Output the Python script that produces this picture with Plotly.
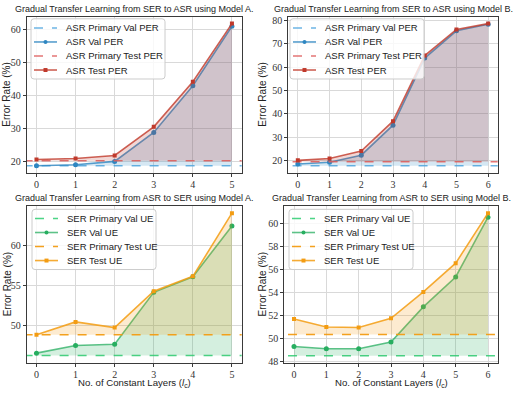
import plotly.graph_objects as go

# layers kept constant
layers_a = [0, 1, 2, 3, 4, 5]
layers_b = [0, 1, 2, 3, 4, 5, 6]

# SER -> ASR (PER)
asr_val_a = [18.7, 19.0, 20.0, 28.8, 43.0, 61.1]
asr_test_a = [20.6, 20.9, 21.8, 30.5, 44.2, 61.9]
asr_primary_val_a = 18.7
asr_primary_test_a = 20.2

asr_val_b = [18.4, 19.2, 22.2, 35.1, 63.9, 75.6, 78.4]
asr_test_b = [20.0, 20.8, 24.0, 36.8, 65.0, 76.2, 78.7]
asr_primary_val_b = 17.7
asr_primary_test_b = 19.4

# ASR -> SER (UE)
ser_val_a = [46.6, 47.55, 47.7, 54.2, 56.15, 62.5]
ser_test_a = [48.9, 50.5, 49.8, 54.35, 56.2, 64.1]
ser_primary_val_a = 46.3
ser_primary_test_a = 48.9

ser_val_b = [49.3, 49.1, 49.1, 49.7, 52.75, 55.35, 60.55]
ser_test_b = [51.7, 51.0, 50.95, 51.75, 54.05, 56.55, 60.9]
ser_primary_val_b = 48.5
ser_primary_test_b = 50.35

asr_names = ["ASR Primary Val PER", "ASR Val PER", "ASR Primary Test PER", "ASR Test PER"]
ser_names = ["SER Primary Val UE", "SER Val UE", "SER Primary Test UE", "SER Test UE"]

W, H = 515, 393
SANS = "Liberation Sans"
SERIF = "Liberation Serif"

# (marker, line, dashed, fill)
BLUE = ("#2e86c1", "rgba(46,134,193,0.8)", "rgba(93,173,226,0.9)", "rgba(46,134,193,0.2)")
RED = ("#c0392b", "rgba(192,57,43,0.8)", "rgba(224,102,102,0.9)", "rgba(192,57,43,0.2)")
GREEN = ("#27ae60", "rgba(39,174,96,0.75)", "rgba(46,204,113,0.85)", "rgba(39,174,96,0.2)")
ORANGE = ("#f39c12", "rgba(243,156,18,0.85)", "rgba(243,156,18,0.95)", "rgba(243,156,18,0.2)")


def px_x(v):
    return v / W


def px_y(v):
    return 1 - v / H


panels = [
    dict(title="Gradual Transfer Learning from SER to ASR using Model A.",
         x=layers_a, val=asr_val_a, test=asr_test_a,
         pval=asr_primary_val_a, ptest=asr_primary_test_a, names=asr_names,
         colors=(BLUE, RED), box=(26.7, 241.7, 15.7, 174), yr=[16.54, 64.06], dtick=10,
         ytitle_x=7, leg=(31, 18, 134)),
    dict(title="Gradual Transfer Learning from SER to ASR using Model B.",
         x=layers_b, val=asr_val_b, test=asr_test_b,
         pval=asr_primary_val_b, ptest=asr_primary_test_b, names=asr_names,
         colors=(BLUE, RED), box=(288.3, 497.7, 15.7, 174), yr=[14.65, 81.75], dtick=10,
         ytitle_x=263, leg=(290, 18, 134)),
    dict(title="Gradual Transfer Learning from ASR to SER using Model A.",
         x=layers_a, val=ser_val_a, test=ser_test_a,
         pval=ser_primary_val_a, ptest=ser_primary_test_a, names=ser_names,
         colors=(GREEN, ORANGE), box=(26.7, 241.7, 207.7, 366.3), yr=[45.41, 64.99], dtick=5,
         ytitle_x=7, leg=(32, 211, 124)),
    dict(title="Gradual Transfer Learning from ASR to SER using Model B.",
         x=layers_b, val=ser_val_b, test=ser_test_b,
         pval=ser_primary_val_b, ptest=ser_primary_test_b, names=ser_names,
         colors=(GREEN, ORANGE), box=(284.3, 497.7, 207.7, 366.5), yr=[47.88, 61.52], dtick=2,
         ytitle_x=262, leg=(289, 211, 124)),
]

fig = go.Figure()
annotations = []
shapes = []


def rounded_box(x0, y0, x1, y1, r=3):
    # path in paper coords, rounded corners given in pixels
    rx, ry = r / W, r / H
    X0, X1 = px_x(x0), px_x(x1)
    Y0, Y1 = px_y(y0), px_y(y1)
    return (f"M {X0 + rx},{Y0} L {X1 - rx},{Y0} Q {X1},{Y0} {X1},{Y0 - ry} "
            f"L {X1},{Y1 + ry} Q {X1},{Y1} {X1 - rx},{Y1} L {X0 + rx},{Y1} "
            f"Q {X0},{Y1} {X0},{Y1 + ry} L {X0},{Y0 - ry} Q {X0},{Y0} {X0 + rx},{Y0} Z")


for i, p in enumerate(panels, start=1):
    suffix = "" if i == 1 else str(i)
    xa, ya = "x" + suffix, "y" + suffix
    x0, x1, y0, y1 = p["box"]
    n = len(p["x"]) - 1
    pad = 0.05 * n
    xr = [-pad, n + pad]
    full_x = [xr[0] - 1, xr[1] + 1]

    for base, series, color, symbol, msize in [
        (p["pval"], p["val"], p["colors"][0], "circle", 5),
        (p["ptest"], p["test"], p["colors"][1], "square", 4),
    ]:
        # primary reference line spanning the whole axis
        fig.add_trace(go.Scatter(
            x=full_x, y=[base, base], mode="lines",
            line=dict(color=color[2], width=1.6, dash="dash"),
            xaxis=xa, yaxis=ya))
        # hidden base + fill between primary and series
        fig.add_trace(go.Scatter(
            x=p["x"], y=[base] * len(p["x"]), mode="lines",
            line=dict(width=0, color="rgba(0,0,0,0)"), hoverinfo="skip",
            xaxis=xa, yaxis=ya))
        fig.add_trace(go.Scatter(
            x=p["x"], y=series, mode="lines",
            line=dict(width=0, color="rgba(0,0,0,0)"), hoverinfo="skip",
            fill="tonexty", fillcolor=color[3],
            xaxis=xa, yaxis=ya))
        fig.add_trace(go.Scatter(
            x=p["x"], y=series, mode="lines+markers",
            line=dict(color=color[1], width=1.6),
            marker=dict(color=color[0], size=msize, symbol=symbol),
            xaxis=xa, yaxis=ya))

    axis_common = dict(
        showline=True, mirror=True, linecolor="#3a3a3a", linewidth=1,
        showgrid=True, gridcolor="#d9d9d9", gridwidth=1, zeroline=False,
        ticks="outside", ticklen=3, tickcolor="#3a3a3a",
        tickfont=dict(family=SERIF, size=10, color="#333333"),
    )
    fig.update_layout({
        "xaxis" + suffix: dict(axis_common, domain=[px_x(x0), px_x(x1)], anchor=ya,
                               range=xr, dtick=1, tick0=0, ticklabelstandoff=-1),
        "yaxis" + suffix: dict(axis_common, domain=[px_y(y1), px_y(y0)], anchor=xa,
                               range=p["yr"], dtick=p["dtick"]),
    })

    # title
    annotations.append(dict(
        text=p["title"], x=px_x((x0 + x1) / 2), y=px_y(y0), xref="paper", yref="paper",
        xanchor="center", yanchor="bottom", yshift=1, showarrow=False,
        font=dict(family=SANS, size=9, color="#222222")))
    # y title
    annotations.append(dict(
        text="Error Rate (%)", x=px_x(p["ytitle_x"]), y=px_y((y0 + y1) / 2),
        xref="paper", yref="paper", xanchor="center", yanchor="middle",
        textangle=-90, showarrow=False,
        font=dict(family=SANS, size=10, color="#222222")))
    # x title on bottom row
    if i > 2:
        annotations.append(dict(
            text="No. of Constant Layers (<i>l</i><sub>c</sub>)",
            x=px_x((x0 + x1) / 2), y=0, xref="paper", yref="paper",
            xanchor="center", yanchor="bottom", yshift=-1, borderpad=0, showarrow=False,
            font=dict(family=SANS, size=9.6, color="#222222")))

    # legend drawn by hand so entries sit as tight as in the original
    lx, ly, lw = p["leg"]
    shapes.append(dict(type="path", xref="paper", yref="paper",
                       path=rounded_box(lx, ly, lx + lw, ly + 61),
                       fillcolor="rgba(255,255,255,0.8)",
                       line=dict(color="#cccccc", width=1), layer="above"))
    entries = [
        (p["names"][0], p["colors"][0][2], "dash", None),
        (p["names"][1], p["colors"][0][1], "solid", ("circle", p["colors"][0][0])),
        (p["names"][2], p["colors"][1][2], "dash", None),
        (p["names"][3], p["colors"][1][1], "solid", ("square", p["colors"][1][0])),
    ]
    for k, (label, lcolor, dash, mark) in enumerate(entries):
        cy = ly + 9.3 + k * 14.2
        shapes.append(dict(type="line", xref="paper", yref="paper",
                           x0=px_x(lx + 3), x1=px_x(lx + 26), y0=px_y(cy), y1=px_y(cy),
                           line=dict(color=lcolor, width=1.6, dash=dash), layer="above"))
        if mark:
            cx, r = lx + 14.5, 2
            shapes.append(dict(type="circle" if mark[0] == "circle" else "rect",
                               xref="paper", yref="paper",
                               x0=px_x(cx - r), x1=px_x(cx + r),
                               y0=px_y(cy - r), y1=px_y(cy + r),
                               fillcolor=mark[1], line=dict(width=0), layer="above"))
        annotations.append(dict(
            text=label, x=px_x(lx + 33), y=px_y(cy), xref="paper", yref="paper",
            xanchor="left", yanchor="middle", showarrow=False,
            font=dict(family=SANS, size=9.5, color="#222222")))

fig.update_layout(
    width=W, height=H,
    margin=dict(l=0, r=0, t=0, b=0),
    paper_bgcolor="white", plot_bgcolor="white",
    showlegend=False,
    annotations=annotations,
    shapes=shapes,
)

# the page body has a default margin that would push the figure off the window
fig.write_html("out.html", config={"displayModeBar": False},
               post_script="document.body.style.margin = '0';")
